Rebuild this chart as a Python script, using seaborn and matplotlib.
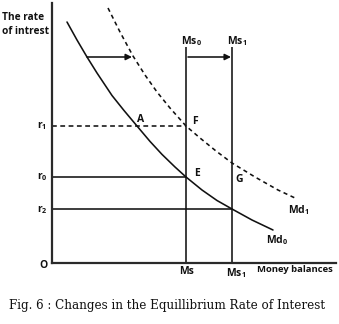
import matplotlib
matplotlib.use("Agg")
import matplotlib.pyplot as plt
import pandas as pd
import seaborn as sns

# Money supply (vertical schedules) and the top of those schedules
ms_levels = [13.4, 18.0]
ms_names = ["Ms$_0$", "Ms$_1$"]
ms_axis_names = ["Ms", "Ms$_1$"]
ms_top = 21.6

# Interest rates marked on the vertical axis
rate_names = ["r$_1$", "r$_0$", "r$_2$"]
rate_values = [13.7, 8.6, 5.4]

# Demand for money: original (Md0) and shifted (Md1)
md0_x = [1.5, 2.5, 3.5, 4.5, 6.0, 7.2, 8.5, 9.8, 11.0, 12.3, 13.4, 15.0,
         16.5, 18.0, 20.0, 22.1]
md0_y = [24.1, 22.3, 20.6, 19.0, 16.75, 15.25, 13.7, 12.16, 10.86, 9.6, 8.6,
         7.3, 6.25, 5.4, 4.3, 3.3]
md1_x = [5.6, 6.8, 8.1, 9.3, 10.5, 11.8, 13.4, 14.8, 16.4, 18.0, 20.3, 22.6,
         24.3]
md1_y = [25.5, 23.1, 20.7, 18.8, 17.1, 15.5, 13.7, 12.5, 11.2, 10.0, 8.6,
         7.3, 6.5]

sns.set_theme(style="white")
plt.rcParams["font.family"] = ["Open Sans", "DejaVu Sans"]
plt.rcParams["mathtext.fontset"] = "custom"
plt.rcParams["mathtext.rm"] = "Open Sans:bold"
plt.rcParams["mathtext.it"] = "Open Sans:bold"
plt.rcParams["mathtext.bf"] = "Open Sans:bold"

W, H = 339, 324
fig = plt.figure(figsize=(W / 100, H / 100), dpi=100)
fig.patch.set_facecolor("white")

# origin of the diagram in figure pixels, 10 px per unit
ox, oy = 52, 263
ax = fig.add_axes([ox / W, (H - oy) / H, (336 - ox) / W, (oy - 3) / H])
ax.set_xlim(0, 28.4)
ax.set_ylim(0, 26.0)
ax.set_xticks([])
ax.set_yticks([])
for side in ("top", "right"):
    ax.spines[side].set_visible(False)
for side in ("left", "bottom"):
    ax.spines[side].set_linewidth(1.6)
    ax.spines[side].set_color("#2a2a2a")
ax.patch.set_alpha(0)

ink = "#111111"
lw = 1.15

curves = pd.DataFrame({
    "x": md0_x + md1_x,
    "y": md0_y + md1_y,
    "curve": ["Md0"] * len(md0_x) + ["Md1"] * len(md1_x),
})
sns.lineplot(data=curves[curves.curve == "Md0"], x="x", y="y", sort=False,
             estimator=None, color=ink, lw=lw, ax=ax)
sns.lineplot(data=curves[curves.curve == "Md1"], x="x", y="y", sort=False,
             estimator=None, color=ink, lw=lw, ax=ax, linestyle=(0, (2.6, 2.2)))

# money supply schedules
ax.vlines(ms_levels, 0, ms_top, color=ink, lw=lw)

# interest rate guide lines
r1, r0, r2 = rate_values
ax.plot([0, ms_levels[0]], [r1, r1], color=ink, lw=lw, linestyle=(0, (3.0, 2.2)))
ax.plot([0, ms_levels[0]], [r0, r0], color=ink, lw=lw)
ax.plot([0, ms_levels[1]], [r2, r2], color=ink, lw=lw)

# shift arrows
arrow = dict(arrowstyle="-|>", lw=lw, color=ink, mutation_scale=9,
             shrinkA=0, shrinkB=0)
ax.annotate("", xy=(8.0, 20.6), xytext=(3.5, 20.6), arrowprops=arrow)
ax.annotate("", xy=(17.9, 20.6), xytext=(13.6, 20.6), arrowprops=arrow)


def label(px, py, s, size=7.5, ha="center", **kw):
    return fig.text(px / W, 1 - py / H, s, ha=ha, va="center", fontsize=size,
                    fontweight="bold", color=ink, **kw)


label(2, 18, "The rate", ha="left", size=7.3)
label(2, 32, "of intrest", ha="left", size=7.3)
for name, py in zip(rate_names, [126, 177, 210]):
    label(42, py, name, size=7.5)
label(43, 265, "O", size=7.5)
label(191, 41, ms_names[0])
label(237, 41, ms_names[1])
label(187, 272, ms_axis_names[0])
label(236, 273, ms_axis_names[1])
label(295, 270, "Money balances", size=6.8)
label(141, 120, "A")
label(195, 121, "F")
label(197, 173, "E")
label(239, 179, "G")
label(299, 210, "Md$_1$")
label(277, 240, "Md$_0$")

caption = fig.text(167 / W, 1 - 305 / H,
                   "Fig. 6 : Changes in the Equillibrium Rate of Interest",
                   ha="center", va="center", fontsize=9.0, color=ink,
                   family=["DejaVu Serif"])
# size the caption so that it spans the width under the diagram
fig.canvas.draw()
width = caption.get_window_extent().width
caption.set_fontsize(9.0 * 316 / width)

fig.savefig("out.png", dpi=100)
